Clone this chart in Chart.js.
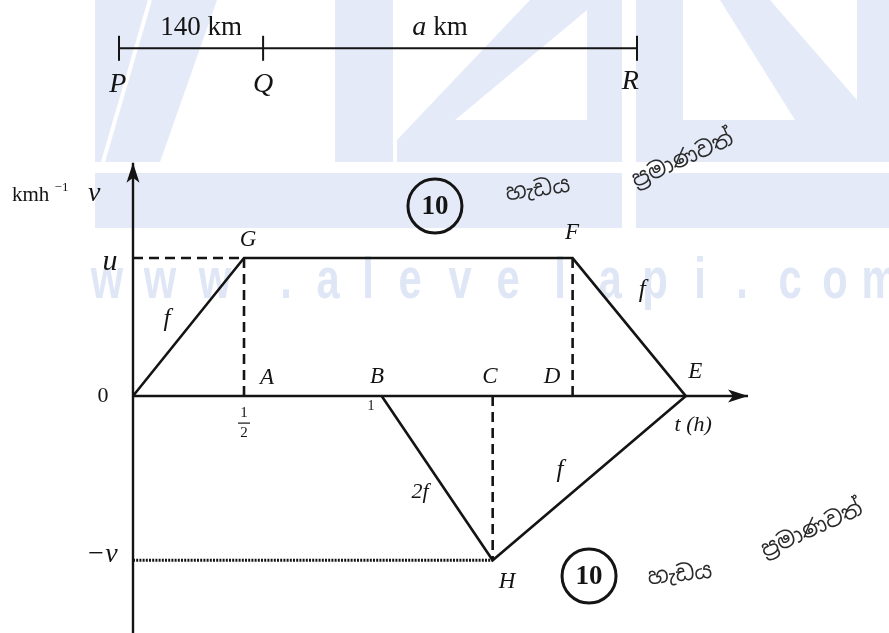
<!DOCTYPE html>
<html>
<head>
<meta charset="utf-8">
<script src="https://cdn.jsdelivr.net/npm/chart.js@4.4.1/dist/chart.umd.min.js"></script>
<style>
    html, body { margin: 0; padding: 0; background: #fff; }
</style>
</head>
<body>
<canvas id="myChart" width="889" height="633"></canvas>
<script>
// velocity-time sketch: t in hours, v in units of u
const upperNames = ['O', 'G', 'F', 'E'];
const upperT = [0, 0.5, 1.98, 2.49];
const upperV = [0, 1, 1, 0];

const lowerNames = ['B', 'H', 'E'];
const lowerT = [1.12, 1.62, 2.49];
const lowerV = [0, -1.19, 0];

const stationNames = ['P', 'Q', 'R'];
const stationT = [-0.063, 0.586, 2.27];
const stationLevel = 2.52;
const segmentLabels = ['140 km', 'a km'];

const axisEndT = 2.77;
const axisTopV = 1.69;
const axisBottomV = -1.72;

const ink = '#141414';
const serif = '"Liberation Serif", "DejaVu Serif", serif';

const xy = (ts, vs) => ts.map((t, i) => ({ x: t, y: vs[i] }));
const G = { x: upperT[1], y: upperV[1] };
const F = { x: upperT[2], y: upperV[2] };
const H = { x: lowerT[1], y: lowerV[1] };

function lineSet(data, width, dash) {
    return {
        data: data,
        showLine: true,
        borderColor: ink,
        borderWidth: width,
        borderDash: dash || [],
        pointRadius: 0,
        borderCapStyle: 'butt'
    };
}

// text labels, placed in chart units
const labels = [
    ['P', stationT[0] - 0.005, 2.254, 'italic 28px ' + serif],
    ['Q', stationT[1], 2.254, 'italic 28px ' + serif],
    ['R', stationT[2] - 0.03, 2.275, 'italic 28px ' + serif],
    ['u', -0.104, 0.971, 'italic 30px ' + serif],
    ['0', -0.135, 0, '22px ' + serif],
    ['G', 0.518, 1.13, 'italic 23px ' + serif],
    ['F', 1.977, 1.181, 'italic 23px ' + serif],
    ['f', 0.153, 0.558, 'italic 25px ' + serif],
    ['f', 2.293, 0.768, 'italic 25px ' + serif],
    ['A', 0.604, 0.13, 'italic 23px ' + serif],
    ['B', 1.099, 0.138, 'italic 23px ' + serif],
    ['C', 1.608, 0.138, 'italic 23px ' + serif],
    ['D', 1.887, 0.138, 'italic 23px ' + serif],
    ['E', 2.532, 0.174, 'italic 23px ' + serif],
    ['1', 1.072, -0.072, '14px ' + serif],
    ['t (h)', 2.523, -0.21, 'italic 22px ' + serif],
    ['2f', 1.293, -0.696, 'italic 22px ' + serif],
    ['f', 1.923, -0.536, 'italic 25px ' + serif],
    ['\u2212v', -0.14, -1.152, 'italic 28px ' + serif],
    ['H', 1.685, -1.348, 'italic 23px ' + serif]
];

// circled marks and handwritten notes
const marks = [
    { x: 1.36, y: 1.377 },
    { x: 2.054, y: -1.304 }
];
const notes = [
    ['\u0DC4\u0DD0\u0DA9\u0DBA', 1.824, 1.493, -8],
    ['\u0DB4\u0DCA\u200D\u0DBB\u0DB8\u0DCF\u0DAB\u0DC0\u0DAD\u0DCA', 2.477, 1.71, -24],
    ['\u0DC4\u0DD0\u0DA9\u0DBA', 2.464, -1.297, -6],
    ['\u0DB4\u0DCA\u200D\u0DBB\u0DB8\u0DCF\u0DAB\u0DC0\u0DAD\u0DCA', 3.059, -0.971, -24]
];

function arrow(ctx, tx, ty, ux, uy) {
    const L = 20, W = 6.5, N = 5;
    const bx = tx - ux * L, by = ty - uy * L;
    const nx = -uy, ny = ux;
    ctx.beginPath();
    ctx.moveTo(tx, ty);
    ctx.lineTo(bx + nx * W, by + ny * W);
    ctx.lineTo(tx - ux * (L - N), ty - uy * (L - N));
    ctx.lineTo(bx - nx * W, by - ny * W);
    ctx.closePath();
    ctx.fill();
}

// background logo and site name printed under the scan
const siteLetters = 'www.alevelapi.com';
const siteCentres = [107, 160, 215, 286, 328, 368, 410, 460, 508, 560, 610, 655, 700, 742, 790, 835, 880];

const watermark = {
    id: 'watermark',
    beforeDraw(chart) {
        const ctx = chart.ctx;
        ctx.save();
        ctx.fillStyle = '#fff';
        ctx.fillRect(0, 0, chart.width, chart.height);
        ctx.fillStyle = '#e4eaf7';
        const poly = (pts) => {
            ctx.beginPath();
            pts.forEach((p, i) => i ? ctx.lineTo(p[0], p[1]) : ctx.moveTo(p[0], p[1]));
            ctx.closePath();
            ctx.fill();
        };
        poly([[95, 0], [217, 0], [160, 162], [95, 162]]);
        ctx.fillRect(335, 0, 58, 162);
        poly([[397, 162], [397, 140], [530, 0], [622, 0], [622, 162]]);
        ctx.fillRect(636, 0, 253, 162);
        ctx.fillRect(95, 173, 527, 55);
        ctx.fillRect(636, 173, 253, 55);
        ctx.fillStyle = '#fff';
        poly([[455, 120], [587, 120], [587, 10]]);
        poly([[683, 0], [720, 0], [795, 120], [683, 120]]);
        poly([[770, 0], [857, 0], [857, 100]]);
        ctx.strokeStyle = '#fff';
        ctx.lineWidth = 4;
        ctx.beginPath();
        ctx.moveTo(150, 0);
        ctx.lineTo(103, 162);
        ctx.stroke();

        ctx.fillStyle = '#dfe6f5';
        ctx.font = 'bold 58px "Liberation Sans", sans-serif';
        ctx.textAlign = 'center';
        ctx.textBaseline = 'alphabetic';
        for (let i = 0; i < siteLetters.length; i++) {
            ctx.save();
            ctx.translate(siteCentres[i], 298);
            ctx.scale(0.72, 1);
            ctx.fillText(siteLetters[i], 0, 0);
            ctx.restore();
        }
        ctx.restore();
    }
};

const annotations = {
    id: 'annotations',
    afterDatasetsDraw(chart) {
        const ctx = chart.ctx;
        const sx = chart.scales.x, sy = chart.scales.y;
        const px = (v) => sx.getPixelForValue(v);
        const py = (v) => sy.getPixelForValue(v);
        ctx.save();
        ctx.fillStyle = ink;
        ctx.strokeStyle = ink;

        arrow(ctx, px(axisEndT), py(0), 1, 0);
        arrow(ctx, px(0), py(axisTopV), 0, -1);

        ctx.textAlign = 'center';
        ctx.textBaseline = 'middle';
        labels.forEach(([text, x, y, font]) => {
            ctx.font = font;
            ctx.fillText(text, px(x), py(y));
        });

        // segment labels over the P-Q-R line
        const midY = py(2.667);
        ctx.font = '27px ' + serif;
        ctx.fillText(segmentLabels[0], px((stationT[0] + stationT[1]) / 2) + 10, midY);
        const parts = segmentLabels[1].split(' ');
        ctx.font = 'italic 28px ' + serif;
        const wa = ctx.measureText(parts[0] + ' ').width;
        ctx.font = '27px ' + serif;
        const wk = ctx.measureText(parts[1]).width;
        const left = px(1.383) - (wa + wk) / 2;
        ctx.textAlign = 'left';
        ctx.font = 'italic 28px ' + serif;
        ctx.fillText(parts[0], left, midY);
        ctx.font = '27px ' + serif;
        ctx.fillText(parts[1], left + wa, midY);

        // axis unit label
        ctx.textBaseline = 'alphabetic';
        const ux = px(-0.545), uy = py(1.413);
        ctx.font = '21px ' + serif;
        ctx.fillText('kmh', ux, uy);
        const wkmh = ctx.measureText('kmh ').width;
        ctx.font = '13px ' + serif;
        ctx.fillText('\u22121', ux + wkmh, uy - 10);
        ctx.font = 'italic 28px ' + serif;
        ctx.fillText('v', ux + 76, uy);

        // the 1/2 tick label under A
        ctx.textAlign = 'center';
        ctx.textBaseline = 'middle';
        const hx = px(G.x), hy = py(-0.196);
        ctx.font = '15px ' + serif;
        ctx.fillText('1', hx, hy - 10);
        ctx.fillText('2', hx, hy + 10);
        ctx.lineWidth = 1.2;
        ctx.beginPath();
        ctx.moveTo(hx - 6, hy);
        ctx.lineTo(hx + 6, hy);
        ctx.stroke();

        // circled 10s
        marks.forEach((m) => {
            ctx.lineWidth = 3;
            ctx.beginPath();
            ctx.arc(px(m.x), py(m.y), 27, 0, Math.PI * 2);
            ctx.stroke();
            ctx.font = 'bold 27px ' + serif;
            ctx.fillText('10', px(m.x), py(m.y) + 1);
        });

        // handwritten notes
        ctx.fillStyle = '#2a2a2a';
        ctx.font = '22px "Noto Sans Sinhala", "Noto Sans", sans-serif';
        notes.forEach(([text, x, y, rot]) => {
            ctx.save();
            ctx.translate(px(x), py(y));
            ctx.rotate(rot * Math.PI / 180);
            ctx.fillText(text, 0, 0);
            ctx.restore();
        });
        ctx.restore();
    }
};

const stations = {
    ...lineSet(stationT.map((t) => ({ x: t, y: stationLevel })), 2),
    pointStyle: 'line',
    rotation: 90,
    pointRadius: 12.5,
    pointBorderWidth: 2,
    pointBorderColor: ink
};

new Chart(document.getElementById('myChart'), {
    type: 'scatter',
    data: {
        datasets: [
            lineSet([{ x: 0, y: 0 }, { x: axisEndT, y: 0 }], 2.4),
            lineSet([{ x: 0, y: axisBottomV }, { x: 0, y: axisTopV }], 2.4),
            lineSet([{ x: 0, y: G.y }, G], 2.6, [10, 6]),
            lineSet([G, { x: G.x, y: 0 }], 2.6, [10, 6]),
            lineSet([F, { x: F.x, y: 0 }], 2.6, [10, 6]),
            lineSet([{ x: H.x, y: 0 }, H], 2.6, [10, 6]),
            lineSet([{ x: 0, y: H.y }, H], 3, [2, 1.2]),
            lineSet(xy(upperT, upperV), 2.6),
            lineSet(xy(lowerT, lowerV), 2.6),
            stations
        ]
    },
    options: {
        responsive: false,
        animation: false,
        layout: { padding: 0, autoPadding: false },
        plugins: { legend: { display: false }, tooltip: { enabled: false } },
        scales: {
            x: { type: 'linear', min: -0.599, max: 3.405, display: false },
            y: { type: 'linear', min: -1.717, max: 2.87, display: false }
        }
    },
    plugins: [watermark, annotations]
});
</script>
</body>
</html>
